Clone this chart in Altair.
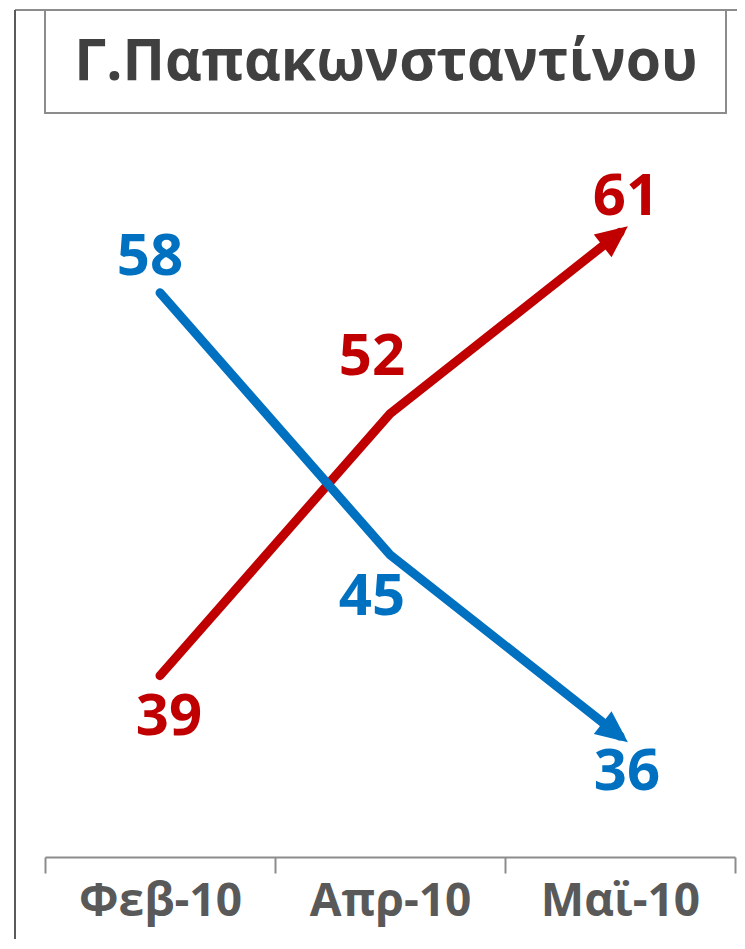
import altair as alt
import pandas as pd

months = ["Φεβ-10", "Απρ-10", "Μαϊ-10"]
red_values = [39, 52, 61]
blue_values = [58, 45, 36]
title_text = "Γ.Παπακωνσταντίνου"

RED = "#C00000"
BLUE = "#0070C0"
FONT = "Open Sans"

rows = []
for i, (m, v) in enumerate(zip(months, red_values)):
    rows.append({"month": m, "idx": i, "value": v, "series": "red"})
for i, (m, v) in enumerate(zip(months, blue_values)):
    rows.append({"month": m, "idx": i, "value": v, "series": "blue"})
df = pd.DataFrame(rows)

W, H = 690, 806

xscale = alt.Scale(domain=months, paddingInner=0, paddingOuter=0)
yscale = alt.Scale(domain=[30, 70], nice=False, zero=False)

base = alt.Chart(df)

x_enc = alt.X("month:N", scale=xscale, sort=months,
              axis=alt.Axis(title=None, labelAngle=0, tickBand="extent",
                            domainColor="#8c8c8c", domainWidth=2,
                            tickColor="#8c8c8c", tickWidth=2, tickSize=16,
                            labelFont=FONT, labelFontSize=46, labelFontWeight="bold",
                            labelColor="#595959", labelPadding=6, grid=False))
y_enc = alt.Y("value:Q", scale=yscale, axis=None)

layers = []
for s, col in [("red", RED), ("blue", BLUE)]:
    layers.append(
        base.transform_filter(alt.datum.series == s)
        .mark_line(color=col, strokeWidth=9, strokeCap="round", strokeJoin="miter")
        .encode(x=x_enc, y=y_enc, order=alt.Order("idx:Q"))
    )

arrow_shape = "M0,-0.5 L-0.72,1.1 L0.72,1.1 Z"
for s, col, ang in [("red", RED, 52), ("blue", BLUE, 128)]:
    layers.append(
        base.transform_filter((alt.datum.series == s) & (alt.datum.idx == 2))
        .mark_point(shape=arrow_shape, filled=True, color=col, opacity=1,
                    size=1600, angle=ang, strokeWidth=0)
        .encode(x=alt.X("month:N", scale=xscale, sort=months), y=y_enc)
    )

offsets = {
    ("red", 0): (9, 42), ("red", 1): (-18, -56), ("red", 2): (6, -34),
    ("blue", 0): (-10, -35), ("blue", 1): (-18, 43), ("blue", 2): (7, 37),
}
for (s, i), (dx, dy) in offsets.items():
    col = RED if s == "red" else BLUE
    layers.append(
        base.transform_filter((alt.datum.series == s) & (alt.datum.idx == i))
        .mark_text(color=col, font=FONT, fontSize=58, fontWeight="bold",
                   dx=dx, dy=dy, baseline="middle", align="center")
        .encode(x=alt.X("month:N", scale=xscale, sort=months), y=y_enc,
                text=alt.Text("value:Q"))
    )

# decorative frame and title box
frame_top = alt.Chart(df).mark_rule(color="#8c8c8c", strokeWidth=2).encode(
    x=alt.value(-30), x2=alt.value(700), y=alt.value(-41))
frame_left = alt.Chart(df).mark_rule(color="#5a5a5a", strokeWidth=2).encode(
    x=alt.value(-30), y=alt.value(-41), y2=alt.value(900))
title_box = alt.Chart(df).mark_rect(fill="white", stroke="#8c8c8c", strokeWidth=2).encode(
    x=alt.value(0), x2=alt.value(681), y=alt.value(-41), y2=alt.value(62))
title = alt.Chart(pd.DataFrame({"t": [title_text]})).mark_text(
    font=FONT, fontSize=57, fontWeight="bold", color="#404040",
    align="center", baseline="middle").encode(
    x=alt.value(341), y=alt.value(12), text="t:N")

chart = alt.layer(frame_top, frame_left, title_box, title, *layers).properties(
    width=W, height=H,
    padding={"left": 37, "top": 43, "right": 2, "bottom": 82},
    autosize=alt.AutoSizeParams(type="none"),
).configure_view(stroke=None)

chart.save("out.html", embed_options={"renderer": "svg", "actions": False})
